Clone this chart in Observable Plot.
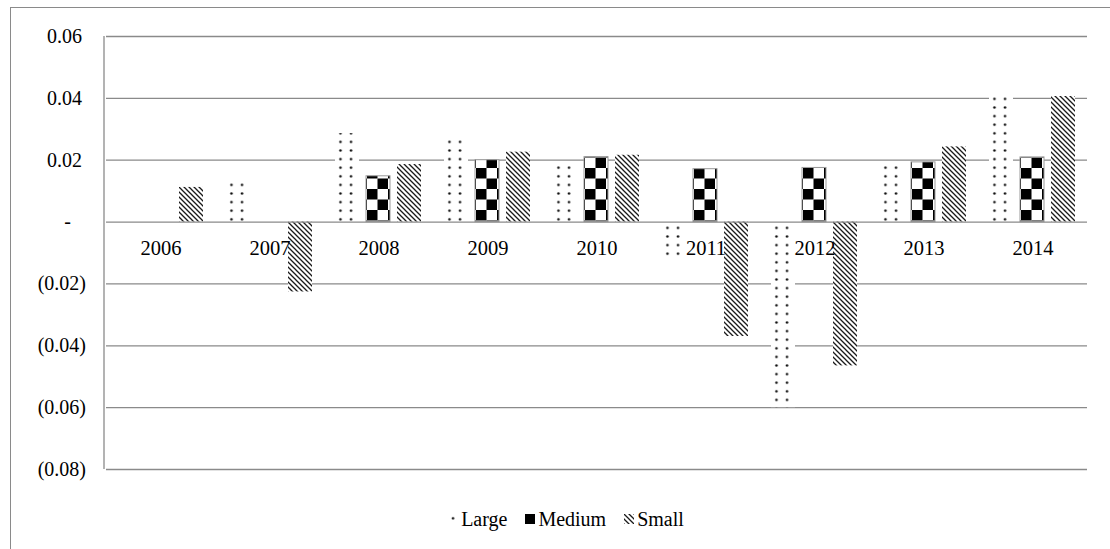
<!DOCTYPE html>
<html>
<head>
<meta charset="utf-8">
<script src="https://cdn.jsdelivr.net/npm/d3@7"></script>
<script src="https://cdn.jsdelivr.net/npm/@observablehq/plot@0.6"></script>
<style>
  body { margin: 0; background: #fff; }
  #wrap { position: relative; width: 1110px; height: 549px; overflow: hidden; background: #fff; font-family: "Liberation Serif", Tinos, "Times New Roman", "DejaVu Serif", serif; }
  #border { position: absolute; left: 10px; top: 7px; width: 1120px; height: 560px; border: 1.3px solid #8a8a8a; box-sizing: border-box; }
  #chart { position: absolute; left: 0; top: 0; }
  #legend { position: absolute; left: 0; top: 507px; width: 1110px; padding-left: 22px; box-sizing: border-box; display: flex; justify-content: center; align-items: center; font-size: 20px; line-height: 24px; color: #000; }
  .item { display: flex; align-items: center; margin: 0 9px; }
  .item svg { margin-right: 3px; }
  #chart svg text { font-family: "Liberation Serif", Tinos, "Times New Roman", "DejaVu Serif", serif !important; }
</style>
</head>
<body>
<div id="wrap">
  <div id="border"></div>
  <div id="chart"></div>
  <div id="legend"></div>
</div>
<script>
// ---- data ----
const years = ["2006", "2007", "2008", "2009", "2010", "2011", "2012", "2013", "2014"];
const sizes = ["Large", "Medium", "Small"];
const large  = [0, 0.0140, 0.0286, 0.0265, 0.0190, -0.0112, -0.0600, 0.0184, 0.0417];
const medium = [0, 0, 0.0148, 0.0200, 0.0210, 0.0171, 0.0175, 0.0193, 0.0209];
const small  = [0.0112, -0.0226, 0.0186, 0.0226, 0.0216, -0.0370, -0.0465, 0.0243, 0.0406];
const yTicks = [0.06, 0.04, 0.02, 0, -0.02, -0.04, -0.06, -0.08];

const series = {Large: large, Medium: medium, Small: small};
const data = [];
years.forEach((yr, i) => sizes.forEach(s => data.push({year: yr, size: s, value: series[s][i]})));

const patternUrl = {Large: "url(#pLarge)", Medium: "url(#pMedium)", Small: "url(#pSmall)"};
const grid = "#8a8a8a";
const serif = "\"Liberation Serif\", Tinos, \"Times New Roman\", \"DejaVu Serif\", serif";

function fmt(v) {
  if (Math.abs(v) < 1e-12) return "-\u00a0\u00a0\u00a0";
  if (v > 0) return v.toFixed(2) + "\u2009";
  return "(" + (-v).toFixed(2) + ")";
}

const plot = Plot.plot({
  width: 1110,
  height: 495,
  marginLeft: 104,
  marginRight: 22,
  marginTop: 36,
  marginBottom: 26,
  style: {fontFamily: serif, fontSize: "20px", color: "#000", background: "transparent", overflow: "visible"},
  fx: {domain: years, padding: 0, axis: null},
  x: {domain: sizes, paddingInner: 0.219, paddingOuter: 0.317, axis: null},
  y: {domain: [-0.08, 0.06], axis: null},
  color: {type: "identity"},
  marks: [
    Plot.ruleY(yTicks.filter(t => t !== 0), {stroke: grid, strokeWidth: 1.3}),
    Plot.barY(data, {
      filter: d => d.value !== 0,
      fx: "year", x: "size", y: "value",
      fill: d => patternUrl[d.size],
      stroke: d => d.size === "Medium" ? "#9a9a9a" : "none",
      strokeWidth: 1
    }),
    Plot.ruleY([0], {stroke: grid, strokeWidth: 1.3}),
    Plot.text(years.map(y => ({year: y, v: 0})), {fx: "year", y: "v", text: "year", dy: 26, fill: "#000", fontSize: 20.5, fontFamily: serif}),
    Plot.axisY(yTicks, {tickSize: 0, tickPadding: 20.5, tickFormat: fmt, fontSize: 20, fill: "#000", fontFamily: serif})
  ]
});
document.getElementById("chart").appendChild(plot);

// patterns + left axis line
const svg = d3.select(plot);
const defs = svg.insert("defs", ":first-child");
const pL = defs.append("pattern").attr("id", "pLarge").attr("patternUnits", "userSpaceOnUse").attr("width", 10.5).attr("height", 8.6);
pL.append("rect").attr("width", 10.5).attr("height", 8.6).attr("fill", "#fff");
pL.append("circle").attr("cx", 5).attr("cy", 4.3).attr("r", 1.3).attr("fill", "#111");
const pM = defs.append("pattern").attr("id", "pMedium").attr("patternUnits", "userSpaceOnUse").attr("width", 21).attr("height", 21);
pM.append("rect").attr("width", 21).attr("height", 21).attr("fill", "#fff");
pM.append("rect").attr("width", 10.5).attr("height", 10.5).attr("fill", "#000");
pM.append("rect").attr("x", 10.5).attr("y", 10.5).attr("width", 10.5).attr("height", 10.5).attr("fill", "#000");
const pS = defs.append("pattern").attr("id", "pSmall").attr("patternUnits", "userSpaceOnUse").attr("width", 5).attr("height", 5);
pS.append("rect").attr("width", 5).attr("height", 5).attr("fill", "#fff");
pS.append("path").attr("d", "M0,0L5,5M-1,4L1,6M4,-1L6,1").attr("stroke", "#1a1a1a").attr("stroke-width", 1.3);

const ys = plot.scale("y");
svg.append("line")
  .attr("x1", 104).attr("x2", 104)
  .attr("y1", ys.apply(0.06)).attr("y2", ys.apply(-0.08))
  .attr("stroke", grid).attr("stroke-width", 1.3);

// legend
const legend = d3.select("#legend");
sizes.forEach(s => {
  const it = legend.append("div").attr("class", "item");
  const sw = it.append("svg").attr("width", 10).attr("height", 10);
  sw.append("rect").attr("width", 10).attr("height", 10).attr("fill", patternUrl[s]);
  it.append("span").text(s);
});
</script>
</body>
</html>
